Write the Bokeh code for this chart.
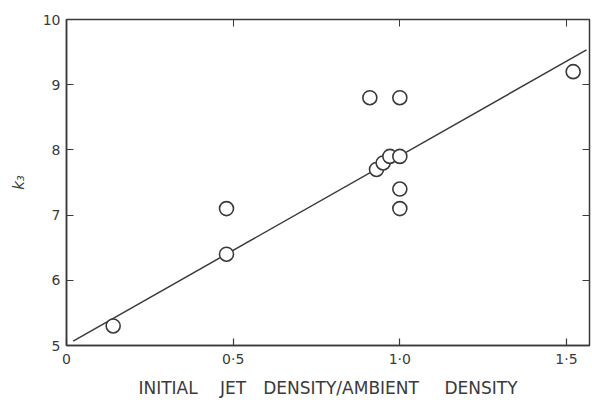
from bokeh.plotting import figure
from bokeh.models import Range1d, FixedTicker, LinearAxis
from bokeh.embed import file_html
from bokeh.resources import INLINE

# data
density_ratio = [0.14, 0.48, 0.48, 0.91, 0.93, 0.95, 0.97, 1.00, 1.00, 1.00, 1.00, 1.52]
k3 = [5.3, 7.1, 6.4, 8.8, 7.7, 7.8, 7.9, 7.9, 8.8, 7.4, 7.1, 9.2]

fit_x = [0.02, 1.56]
fit_intercept = 5.01
fit_slope = 2.90
fit_y = [fit_intercept + fit_slope * v for v in fit_x]

x_ticks = [0, 0.5, 1.0, 1.5]
x_tick_labels = {0: "0", 0.5: "0·5", 1.0: "1·0", 1.5: "1·5"}
y_ticks = [5, 6, 7, 8, 9, 10]

x_label = "INITIAL\u2003 JET\u2003DENSITY/AMBIENT\u2003\u2002DENSITY"

ink = "#3a3a3a"
font = "DejaVu Sans"

p = figure(width=592, height=414, output_backend="svg", toolbar_location=None,
           x_range=Range1d(0, 1.569), y_range=Range1d(5, 10),
           min_border_left=66, min_border_right=3, min_border_top=19, min_border_bottom=69,
           x_axis_label=x_label, y_axis_label="k₃")
p.grid.visible = False
p.outline_line_color = ink
p.outline_line_width = 1.5
p.background_fill_color = "white"
p.border_fill_color = "white"

for ax in (p.xaxis[0], p.yaxis[0]):
    ax.axis_line_color = ink
    ax.axis_line_width = 1.5
    ax.major_tick_line_color = ink
    ax.major_tick_line_width = 1.2
    ax.major_tick_in = 7
    ax.major_tick_out = 0
    ax.minor_tick_line_color = None
    ax.major_label_text_font = font
    ax.major_label_text_font_size = "14px"
    ax.major_label_text_color = ink
    ax.axis_label_text_font = font
    ax.axis_label_text_color = ink
    ax.axis_label_text_font_style = "normal"

p.xaxis[0].ticker = FixedTicker(ticks=x_ticks)
p.xaxis[0].major_label_overrides = x_tick_labels
p.xaxis[0].major_label_standoff = 5
p.xaxis[0].axis_label_text_font_size = "17px"
p.xaxis[0].axis_label_standoff = 8
p.yaxis[0].ticker = FixedTicker(ticks=y_ticks)
p.yaxis[0].major_label_standoff = 6
p.yaxis[0].axis_label_text_font_size = "15px"
p.yaxis[0].axis_label_text_font_style = "italic"
p.yaxis[0].axis_label_standoff = 12

# mirrored ticks on top and right (labels not drawn)
top = LinearAxis(ticker=FixedTicker(ticks=x_ticks), major_label_text_color=None,
                 major_label_text_font_size="8px",
                 major_tick_in=7, major_tick_out=0, minor_tick_line_color=None,
                 axis_line_color=None, major_tick_line_color=ink, major_label_standoff=0)
right = LinearAxis(ticker=FixedTicker(ticks=y_ticks), major_label_text_color=None,
                   major_label_text_font_size="8px",
                   major_tick_in=7, major_tick_out=0, minor_tick_line_color=None,
                   axis_line_color=None, major_tick_line_color=ink, major_label_standoff=0)
p.add_layout(top, "above")
p.add_layout(right, "right")

p.line(fit_x, fit_y, line_color=ink, line_width=1.5)
p.scatter(density_ratio, k3, size=14, marker="circle", fill_color="white",
          line_color=ink, line_width=1.6)

open("out.html", "w").write(file_html(p, INLINE))
